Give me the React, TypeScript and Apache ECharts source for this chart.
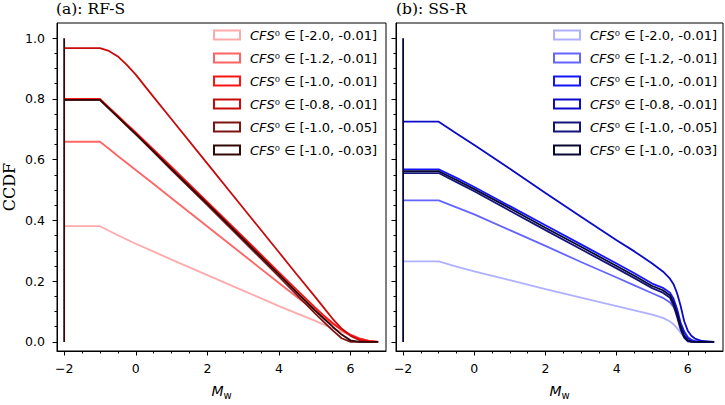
import { useEffect, useRef } from "react";
import * as echarts from "echarts";

// Magnitude grid for each panel
const xsRFS = [-2, -1, -0.75, -0.5, -0.25, 0, 0.5, 1, 2, 3, 4, 4.5, 5, 5.25, 5.5, 5.75, 6.0, 6.25, 6.5, 6.77];
const xsSSR = [-2, -1, -0.5, 0, 1, 2, 3, 4, 4.5, 5, 5.3, 5.5, 5.6, 5.7, 5.8, 5.9, 6.0, 6.1, 6.2, 6.4, 6.74];

const ranges = ["[-2.0, -0.01]", "[-1.2, -0.01]", "[-1.0, -0.01]", "[-0.8, -0.01]", "[-1.0, -0.05]", "[-1.0, -0.03]"];

// CCDF values, RF-S mechanism
const rfs1 = [0.381, 0.381, 0.366, 0.351, 0.337, 0.323, 0.297, 0.271, 0.22, 0.169, 0.118, 0.094, 0.07, 0.057, 0.045, 0.033, 0.021, 0.011, 0.004, 0];
const rfs2 = [0.659, 0.659, 0.636, 0.612, 0.589, 0.566, 0.52, 0.473, 0.38, 0.287, 0.194, 0.148, 0.103, 0.08, 0.059, 0.04, 0.024, 0.012, 0.004, 0];
const rfs3 = [0.8, 0.8, 0.772, 0.745, 0.717, 0.69, 0.633, 0.576, 0.461, 0.346, 0.229, 0.171, 0.114, 0.087, 0.062, 0.04, 0.022, 0.01, 0.003, 0];
const rfs4 = [0.967, 0.967, 0.958, 0.94, 0.912, 0.88, 0.806, 0.733, 0.587, 0.441, 0.295, 0.222, 0.15, 0.113, 0.076, 0.044, 0.02, 0.006, 0.001, 0];
const rfs5 = [0.797, 0.797, 0.768, 0.74, 0.711, 0.683, 0.625, 0.566, 0.45, 0.333, 0.215, 0.155, 0.095, 0.066, 0.038, 0.012, 0, 0, 0, 0];
const rfs6 = [0.797, 0.797, 0.769, 0.741, 0.713, 0.685, 0.628, 0.57, 0.455, 0.339, 0.222, 0.163, 0.105, 0.077, 0.05, 0.024, 0.005, 0, 0, 0];

// CCDF values, SS-R mechanism
const ssr1 = [0.265, 0.265, 0.248, 0.232, 0.203, 0.174, 0.146, 0.118, 0.104, 0.09, 0.079, 0.067, 0.058, 0.045, 0.03, 0.017, 0.008, 0.004, 0.002, 0.001, 0];
const ssr2 = [0.466, 0.466, 0.443, 0.42, 0.368, 0.316, 0.263, 0.212, 0.186, 0.16, 0.145, 0.13, 0.115, 0.092, 0.062, 0.035, 0.016, 0.007, 0.003, 0.001, 0];
const ssr3 = [0.568, 0.568, 0.54, 0.51, 0.447, 0.384, 0.321, 0.258, 0.226, 0.192, 0.178, 0.162, 0.142, 0.108, 0.062, 0.032, 0.014, 0.006, 0.002, 0, 0];
const ssr4 = [0.725, 0.725, 0.686, 0.648, 0.57, 0.49, 0.412, 0.335, 0.298, 0.258, 0.232, 0.208, 0.19, 0.16, 0.118, 0.068, 0.037, 0.02, 0.011, 0.003, 0];
const ssr5 = [0.556, 0.556, 0.526, 0.496, 0.432, 0.368, 0.305, 0.242, 0.21, 0.177, 0.162, 0.145, 0.12, 0.082, 0.04, 0.013, 0.002, 0, 0, 0, 0];
const ssr6 = [0.562, 0.562, 0.533, 0.503, 0.44, 0.376, 0.313, 0.25, 0.218, 0.184, 0.17, 0.153, 0.13, 0.094, 0.05, 0.02, 0.006, 0.001, 0, 0, 0];

// Vertical edge at the lower magnitude bound
const edgeLine = [[-2, 0], [-2, 1]];

const redShades = ["#ffaaaa", "#ff6464", "#ff1414", "#c80a0a", "#7d1414", "#320808"];
const blueShades = ["#b0b0ff", "#6464ff", "#1414ff", "#0a0ac8", "#14147d", "#080832"];

const xMajor = [-2, 0, 2, 4, 6];
const xMinor = [-1.5, -1, -0.5, 0.5, 1, 1.5, 2.5, 3, 3.5, 4.5, 5, 5.5, 6.5];
const yMajor = [0, 0.2, 0.4, 0.6, 0.8, 1.0];
const yMinor = [0.05, 0.1, 0.15, 0.25, 0.3, 0.35, 0.45, 0.5, 0.55, 0.65, 0.7, 0.75, 0.85, 0.9, 0.95];

const SANS = "DejaVu Sans";
const SERIF = "DejaVu Serif";
const X_MIN = -2.2;
const X_MAX = 6.99;
const Y_MIN = -0.03;
const Y_MAX = 1.05;

const minus = (v: number) => String(v).replace("-", "\u2212");

export default function App() {
  const ref = useRef<HTMLDivElement>(null);

  useEffect(() => {
    if (!ref.current) return;
    const chart = echarts.init(ref.current, null, { renderer: "svg", width: 725, height: 405 });

    const panels = [
      { tag: "RF-S", xs: xsRFS, rows: [rfs1, rfs2, rfs3, rfs4, rfs5, rfs6], colors: redShades },
      { tag: "SS-R", xs: xsSSR, rows: [ssr1, ssr2, ssr3, ssr4, ssr5, ssr6], colors: blueShades },
    ];

    const xAxes: any[] = [];
    const yAxes: any[] = [];
    const series: any[] = [];
    const legends: any[] = [];

    panels.forEach((p, gi) => {
      const tickLine = { lineStyle: { color: "#000", width: 1 } };
      xAxes.push({
        gridIndex: gi,
        type: "value",
        min: X_MIN,
        max: X_MAX,
        position: "bottom",
        axisLine: { show: true, onZero: false, lineStyle: { color: "#000", width: 1 } },
        axisTick: { show: true, customValues: xMajor, length: 4.5, ...tickLine },
        axisLabel: {
          customValues: xMajor,
          formatter: minus,
          color: "#000",
          fontFamily: SANS,
          fontSize: 12.5,
          margin: 11,
        },
        splitLine: { show: false },
        name: "{m|M}{s|w}",
        nameLocation: "middle",
        nameGap: 30,
        nameTextStyle: {
          rich: {
            m: { fontFamily: SANS, fontStyle: "italic", fontSize: 14, color: "#000" },
            s: { fontFamily: SANS, fontSize: 10, color: "#000", padding: [9, 0, 0, 0] },
          },
        },
      });
      xAxes.push({
        gridIndex: gi,
        type: "value",
        min: X_MIN,
        max: X_MAX,
        position: "bottom",
        axisLine: { show: false, onZero: false },
        axisTick: { show: true, customValues: xMinor, length: 2.5, ...tickLine },
        axisLabel: { show: false },
        splitLine: { show: false },
      });
      yAxes.push({
        gridIndex: gi,
        type: "value",
        min: Y_MIN,
        max: Y_MAX,
        position: "left",
        axisLine: { show: true, onZero: false, lineStyle: { color: "#000", width: 1 } },
        axisTick: { show: true, customValues: yMajor, length: 4.5, ...tickLine },
        axisLabel: {
          show: gi === 0,
          customValues: yMajor,
          formatter: (v: number) => v.toFixed(1),
          color: "#000",
          fontFamily: SANS,
          fontSize: 12.5,
          margin: 12,
        },
        splitLine: { show: false },
        name: gi === 0 ? "CCDF" : "",
        nameLocation: "middle",
        nameGap: 40,
        nameTextStyle: { fontFamily: SERIF, fontSize: 16, color: "#000" },
      });
      yAxes.push({
        gridIndex: gi,
        type: "value",
        min: Y_MIN,
        max: Y_MAX,
        position: "left",
        axisLine: { show: false, onZero: false },
        axisTick: { show: true, customValues: yMinor, length: 2.5, ...tickLine },
        axisLabel: { show: false },
        splitLine: { show: false },
      });

      const names = ranges.map((r) => `${p.tag}::${r}`);
      p.rows.forEach((vals, i) => {
        series.push({
          name: names[i],
          type: "line",
          xAxisIndex: gi * 2,
          yAxisIndex: gi * 2,
          data: p.xs.map((x, k) => [x, vals[k]]),
          showSymbol: false,
          lineStyle: { color: p.colors[i], width: 1.8 },
          itemStyle: { color: p.colors[i] },
          z: 2 + i,
        });
      });
      series.push({
        type: "line",
        xAxisIndex: gi * 2,
        yAxisIndex: gi * 2,
        data: edgeLine,
        showSymbol: false,
        lineStyle: { color: p.colors[5], width: 1.8 },
        z: 10,
      });

      legends.push({
        orient: "vertical",
        left: gi === 0 ? 213 : 553,
        top: 28,
        padding: 0,
        itemWidth: 26,
        itemHeight: 9,
        itemGap: 9,
        data: names.map((n, i) => ({
          name: n,
          icon: "rect",
          itemStyle: { color: "#fff", borderColor: p.colors[i], borderWidth: 2 },
        })),
        formatter: (n: string) => `{it|CFS}{n|\u2070 \u2208 ${n.split("::")[1]}}`,
        textStyle: {
          color: "#000",
          fontFamily: SANS,
          fontSize: 13,
          lineHeight: 14,
          padding: [0, 0, 0, 5],
          rich: {
            it: { fontFamily: SANS, fontStyle: "italic", fontSize: 13, lineHeight: 14, color: "#000" },
            n: { fontFamily: SANS, fontSize: 13, lineHeight: 14, color: "#000" },
          },
        },
        selectedMode: false,
      });
    });

    const titleStyle = { fontFamily: SERIF, fontSize: 15.5, fontWeight: "normal", color: "#000" };
    chart.setOption({
      animation: false,
      backgroundColor: "#fff",
      title: [
        { text: "(a): RF-S", left: 56, top: 1, padding: 0, textStyle: titleStyle },
        { text: "(b): SS-R", left: 396, top: 1, padding: 0, textStyle: titleStyle },
      ],
      grid: [
        { left: 56, right: 339, top: 23, bottom: 47, show: true, borderColor: "#000", borderWidth: 1, containLabel: false },
        { left: 396, right: 2, top: 23, bottom: 47, show: true, borderColor: "#000", borderWidth: 1, containLabel: false },
      ],
      xAxis: xAxes,
      yAxis: yAxes,
      legend: legends,
      series,
    });

    return () => chart.dispose();
  }, []);

  return (
    <>
      <style>{"html,body{margin:0;padding:0;overflow:hidden;background:#fff}"}</style>
      <div ref={ref} style={{ width: 725, height: 405, overflow: "hidden" }} />
    </>
  );
}
